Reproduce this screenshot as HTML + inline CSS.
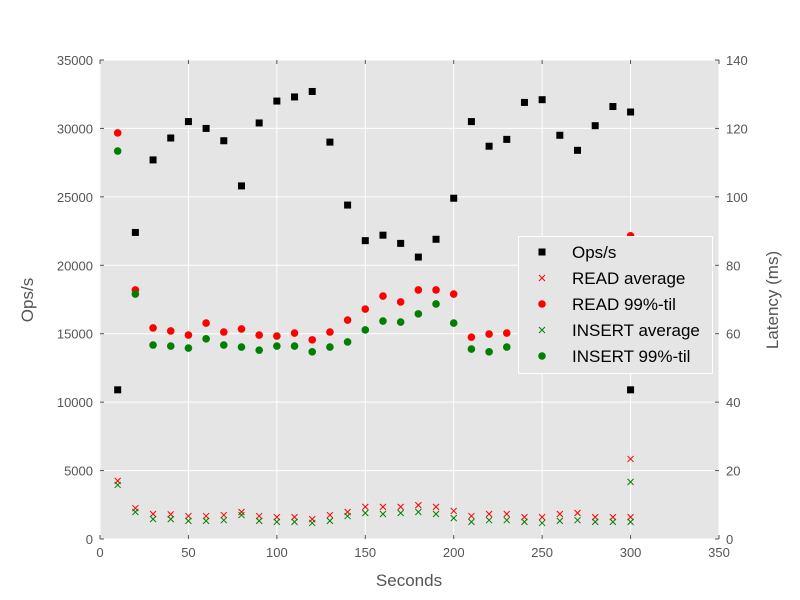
<!DOCTYPE html>
<html><head><meta charset="utf-8"><style>
body{margin:0;background:#fff;font-family:"Liberation Sans","DejaVu Sans",sans-serif}
svg{display:block}
text{font-family:"Liberation Sans","DejaVu Sans",sans-serif}
</style></head><body>
<svg id="chart" width="800" height="600" xmlns="http://www.w3.org/2000/svg"></svg>
<script>
const seconds=[10,20,30,40,50,60,70,80,90,100,110,120,130,140,150,160,170,180,190,200,210,220,230,240,250,260,270,280,290,300,300];
const opsPerSec=[10900,22400,27700,29300,30500,30000,29100,25800,30400,32000,32300,32700,29000,24400,21800,22200,21600,20600,21900,24900,30500,28700,29200,31900,32100,29500,28400,30200,31600,31200,10900];
const readAvg=[17.0,9.0,7.3,7.2,6.7,6.7,7.0,7.9,6.7,6.4,6.4,5.8,7.0,7.9,9.4,9.4,9.4,9.9,9.4,8.2,6.7,7.3,7.3,6.4,6.4,7.3,7.6,6.4,6.4,6.4,23.4];
const read99=[118.7,72.8,61.7,60.8,59.6,63.1,60.5,61.4,59.6,59.3,60.2,58.2,60.5,64.0,67.2,71.0,69.3,72.8,72.8,71.6,59.0,59.9,60.2,60.5,61.0,60.0,60.5,61.0,60.0,88.6,60.0];
const insertAvg=[15.8,7.9,5.8,5.8,5.3,5.3,5.5,7.0,5.3,5.0,5.0,4.7,5.3,6.7,7.6,7.3,7.6,7.9,7.3,6.1,5.0,5.5,5.5,5.0,4.7,5.3,5.5,5.0,5.0,5.0,16.7];
const insert99=[113.4,71.6,56.7,56.4,55.8,58.5,56.7,56.1,55.2,56.4,56.4,54.7,56.1,57.6,61.1,63.7,63.4,65.8,68.7,63.1,55.5,54.7,56.1,56.0,56.5,56.0,56.5,56.0,56.0,60.0,56.0];
const xTicks=[0,50,100,150,200,250,300,350];
const yLeftTicks=[0,5000,10000,15000,20000,25000,30000,35000];
const yRightTicks=[0,20,40,60,80,100,120,140];

const L=100,R=719,T=60,B=539;
const xs=v=>L+v/350*(R-L);
const yl=v=>B-v/35000*(B-T);
const yr=v=>B-v/140*(B-T);
const svg=document.getElementById('chart');
const NS='http://www.w3.org/2000/svg';
function mk(tag,attrs,parent){const e=document.createElementNS(NS,tag);for(const k in attrs)e.setAttribute(k,attrs[k]);(parent||svg).appendChild(e);return e;}

const bg=mk('rect',{x:L,y:T,width:R-L,height:B-T,fill:'#e5e5e5'});


const grid=mk('g',{stroke:'#fff','stroke-width':1});


xTicks.forEach(t=>mk('line',{x1:xs(t),x2:xs(t),y1:T,y2:B},grid));
yLeftTicks.forEach(t=>mk('line',{x1:L,x2:R,y1:yl(t),y2:yl(t)},grid));

const tk=mk('g',{fill:'#555','font-size':13});


const tm=mk('g',{stroke:'#555','stroke-width':1});
xTicks.forEach(t=>{const e=mk('text',{x:xs(t),y:B+18,'text-anchor':'middle'},tk);e.textContent=t;
  mk('line',{x1:xs(t),x2:xs(t),y1:B,y2:B-4},tm);mk('line',{x1:xs(t),x2:xs(t),y1:T,y2:T+4},tm);});
yLeftTicks.forEach(t=>{const e=mk('text',{x:L-7,y:yl(t)+5,'text-anchor':'end'},tk);e.textContent=t;
  mk('line',{x1:L,x2:L+4,y1:yl(t),y2:yl(t)},tm);});
yRightTicks.forEach(t=>{const e=mk('text',{x:R+7,y:yr(t)+5,'text-anchor':'start'},tk);e.textContent=t;
  mk('line',{x1:R,x2:R-4,y1:yr(t),y2:yr(t)},tm);});

function lab(txt,x,y,rot,name){const e=mk('text',{x:x,y:y,'text-anchor':'middle',fill:'#555','font-size':17});
  if(rot)e.setAttribute('transform','rotate('+rot+' '+x+' '+y+')');e.textContent=txt;
  
  }
lab('Seconds',409,586,0,'x-axis-title');
lab('Ops/s',33,300,-90,'left-y-axis-title');
lab('Latency (ms)',778,300,-90,'right-y-axis-title');

function sq(g,x,y,c){mk('rect',{x:x-3.5,y:y-3.5,width:7,height:7,fill:c},g);}
function dot(g,x,y,c){mk('circle',{cx:x,cy:y,r:3.8,fill:c},g);}
function cross(g,x,y,c){mk('path',{d:`M${x-3} ${y-3}L${x+3} ${y+3}M${x-3} ${y+3}L${x+3} ${y-3}`,stroke:c,'stroke-width':1,fill:'none'},g);}

const gOps=mk('g',{});


seconds.forEach((s,i)=>sq(gOps,xs(s),yl(opsPerSec[i]),'#000'));
const gRA=mk('g',{});


seconds.forEach((s,i)=>cross(gRA,xs(s),yr(readAvg[i]),'#ff0000'));
const gR9=mk('g',{});


seconds.forEach((s,i)=>dot(gR9,xs(s),yr(read99[i]),'#ff0000'));
const gIA=mk('g',{});


seconds.forEach((s,i)=>cross(gIA,xs(s),yr(insertAvg[i]),'#008000'));
const gI9=mk('g',{});


seconds.forEach((s,i)=>dot(gI9,xs(s),yr(insert99[i]),'#008000'));

const lg=mk('g',{});


mk('rect',{x:518.5,y:236.5,width:194,height:137,fill:'#e5e5e5',stroke:'#fff','stroke-width':1},lg);
const entries=[['Ops/s','sq','#000'],['READ average','x','#ff0000'],['READ 99%-til','o','#ff0000'],['INSERT average','x','#008000'],['INSERT 99%-til','o','#008000']];
entries.forEach((e,i)=>{const y=252+i*26,x=542;
  const g=mk('g',{},lg);
  
  
  if(e[1]=='sq')sq(g,x,y,e[2]);else if(e[1]=='x')cross(g,x,y,e[2]);else dot(g,x,y,e[2]);
  const t=mk('text',{x:572,y:y+6,'font-size':17,fill:'#000'},g);t.textContent=e[0];});
</script>
</body></html>
